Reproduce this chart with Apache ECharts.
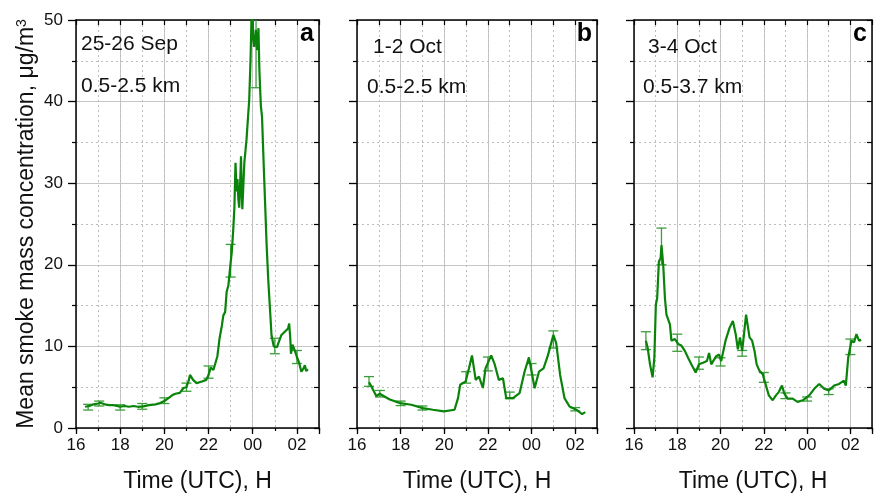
<!DOCTYPE html>
<html><head><meta charset="utf-8">
<script src="https://cdn.jsdelivr.net/npm/echarts@6/dist/echarts.min.js"></script>
<style>html,body{margin:0;padding:0;background:#fff}#c{width:875px;height:498px}</style>
</head><body><div id="c"></div>
<script>
// ---------- data ----------
const panelTitles = ['25-26 Sep', '1-2 Oct', '3-4 Oct'];
const panelRanges = ['0.5-2.5 km', '0.5-2.5 km', '0.5-3.7 km'];
const panelLetters = ['a', 'b', 'c'];
const xTickLabels = {16:'16',18:'18',20:'20',22:'22',24:'00',26:'02'};
const yTickValues = [0,10,20,30,40,50];

const timeA = [16.41,16.6,16.8,17.0,17.1,17.3,17.5,17.7,18.0,18.2,18.4,18.6,18.8,19.05,19.3,19.6,19.8,20.0,20.2,20.35,20.5,20.7,20.86,21.0,21.1,21.16,21.3,21.46,21.7,21.9,22.0,22.1,22.14,22.22,22.29,22.4,22.5,22.6,22.67,22.75,22.82,22.9,23.0,23.05,23.12,23.17,23.22,23.27,23.31,23.35,23.39,23.43,23.47,23.5,23.53,23.58,23.62,23.72,23.84,23.9,23.95,24.0,24.02,24.07,24.14,24.2,24.26,24.3,24.33,24.37,24.42,24.5,24.63,24.7,24.85,24.95,25.0,25.1,25.16,25.3,25.45,25.53,25.6,25.65,25.7,25.73,25.8,25.9,26.0,26.1,26.2,26.3,26.36,26.42,26.5];
const valA  = [2.6,2.7,2.9,3.0,3.1,2.9,2.8,2.8,2.6,2.7,2.6,2.7,2.6,2.65,2.8,2.9,3.05,3.3,3.7,4.0,4.2,4.3,4.9,5.0,5.8,6.5,5.9,5.5,5.7,5.9,6.5,7.4,7.6,7.1,6.9,8.8,11,12.5,13.8,14.2,16.7,17.5,20.3,21.5,24.4,27,32.5,29,30.5,28,27,30,33.3,29,26.8,30,32.5,35.4,40.2,45,51,50.5,47.6,46.7,48.8,46.3,49,44,41.9,39.4,38.2,32,22.4,18.3,11.4,10,10.2,9.9,10.4,11.4,11.8,12,12.2,12.8,11,9.1,10.2,9.5,8.7,8.0,6.9,7.3,7.7,7.0,7.2];
const errTimeA = [16.55,17.05,18.0,19.0,20.0,21.0,22.0,23.0,24.15,25.0,26.0];
const errLowA  = [2.2,2.7,2.2,2.3,3.0,4.5,6.1,18.5,41.7,9.1,7.9];
const errHighA = [2.9,3.3,2.85,3.0,3.7,5.5,7.6,22.5,53,11.0,9.5];

const timeB = [16.55,16.66,16.89,17.04,17.5,17.98,18.49,19.02,19.48,19.98,20.47,20.63,20.73,20.98,21.13,21.27,21.44,21.59,21.77,21.89,22.15,22.3,22.5,22.69,22.84,23.15,23.45,23.68,23.88,24.03,24.14,24.34,24.55,24.75,24.9,25.0,25.13,25.31,25.51,25.74,26.05,26.32,26.46];
const valB  = [5.6,5.1,3.9,4.2,3.5,3.05,2.85,2.44,2.24,2.03,2.24,3.66,5.3,5.7,7.3,8.9,5.9,6.3,4.9,7.3,8.9,7.9,5.9,6.1,3.66,3.66,4.27,6.9,8.66,6.5,4.88,6.9,7.3,8.9,10.4,11.4,10.4,6.5,3.66,2.64,2.24,1.7,1.95];
const errTimeB = [16.55,17.05,18.0,19.0,21.0,22.0,23.0,24.0,25.0,26.0];
const errLowB  = [5.1,3.8,2.75,2.2,5.5,7.0,3.6,6.5,9.8,2.1];
const errHighB = [6.3,4.6,3.3,2.7,6.9,8.7,4.4,7.9,11.9,2.5];

const timeC = [16.55,16.63,16.74,16.86,16.94,17.01,17.07,17.15,17.23,17.27,17.35,17.43,17.5,17.58,17.66,17.73,17.89,18.04,18.19,18.35,18.5,18.65,18.85,19.0,19.19,19.37,19.47,19.57,19.8,19.93,20.03,20.23,20.42,20.57,20.7,20.8,20.9,21.0,21.1,21.18,21.26,21.34,21.46,21.57,21.67,21.8,21.95,22.1,22.23,22.41,22.56,22.69,22.84,22.95,23.1,23.33,23.56,23.8,24.1,24.33,24.56,24.79,25.0,25.25,25.48,25.7,25.79,25.9,26.05,26.17,26.28,26.4,26.5];
const valC  = [10.7,9.85,7.8,6.2,8.6,15.1,15.9,20.4,20.8,22.4,20,15.9,13.9,14.1,12.7,10.7,10.9,10.3,10.1,9.45,8.6,7.8,6.8,7.8,8.0,8.2,9.2,7.8,8.8,9.0,8.2,10.7,12.3,13.1,11.5,9.65,11.1,9.45,11.9,13.9,14.1,11.1,10.7,9.45,7.8,7.0,6.6,5.2,4.0,3.4,4.0,4.4,5.2,4.2,3.6,3.6,3.2,3.4,4.0,4.8,5.4,4.8,4.6,5.2,5.4,5.8,5.2,8.6,10.7,10.5,11.5,10.7,10.8];
const errTimeC = [16.55,17.27,18.0,19.0,20.0,21.0,22.0,23.0,24.0,25.0,26.0];
const errLowC  = [9.6,20,9.4,7.2,7.6,8.8,5.6,3.6,3.3,4.1,9.0];
const errHighC = [11.8,24.5,11.5,8.7,8.6,9.5,6.8,4.3,3.8,4.8,10.9];

// ---------- chart ----------
const lines = [[timeA,valA],[timeB,valB],[timeC,valC]];
const errs = [[errTimeA,errLowA,errHighA],[errTimeB,errLowB,errHighB],[errTimeC,errLowC,errHighC]];
const gridPos = [{left:76,width:243},{left:357,width:240},{left:634,width:238}];
const FONT = "'Liberation Sans', Arial, Helvetica, sans-serif";
const LINE_C = '#0a830a';
const ERR_C = '#3c9d3c';
const GRID_C = '#c6c6c6';

const grids = [], xAxes = [], yAxes = [], series = [], graphics = [];
for (let i = 0; i < 3; i++) {
  grids.push({left: gridPos[i].left, width: gridPos[i].width, top: 20, height: 410, containLabel: false});
  xAxes.push({
    type:'value', gridIndex:i, position:'bottom', min:16, max:27, interval:2,
    axisLine:{show:true, onZero:false, lineStyle:{color:'#000', width:1.5}},
    axisTick:{show:true, length:6, lineStyle:{color:'#000', width:1.3}},
    axisLabel:{show:true, margin:9, fontSize:17, color:'#111', fontFamily:FONT,
      formatter: v => (xTickLabels[v] !== undefined ? xTickLabels[v] : '')},
    splitLine:{show:true, lineStyle:{color:GRID_C, width:1, type:'solid'}},
    name:'Time (UTC), H', nameLocation:'middle', nameGap:42,
    nameTextStyle:{fontSize:23, color:'#111', fontFamily:FONT}
  });
  xAxes.push({
    type:'value', gridIndex:i, position:'bottom', min:16, max:27, interval:1, offset:0,
    axisLine:{show:false}, axisLabel:{show:false},
    axisTick:{show:true, length:3, lineStyle:{color:'#000', width:1.2}},
    splitLine:{show:true, lineStyle:{color:'#bdbdbd', width:1, type:[2,3]}}
  });
  xAxes.push({
    type:'value', gridIndex:i, position:'top', min:16, max:27, interval:1,
    axisLine:{show:true, onZero:false, lineStyle:{color:'#000', width:1.5}},
    axisTick:{show:true, inside:true, length:5, lineStyle:{color:'#000', width:1.2}},
    axisLabel:{show:false}, splitLine:{show:false}
  });
  yAxes.push({
    type:'value', gridIndex:i, position:'left', min:0, max:50, interval:10,
    axisLine:{show:true, onZero:false, lineStyle:{color:'#000', width:1.5}},
    axisTick:{show:true, length:8, lineStyle:{color:'#000', width:1.3}},
    minorTick:{show:true, splitNumber:2, length:4, lineStyle:{color:'#000', width:1.2}},
    minorSplitLine:{show:true, lineStyle:{color:'#bdbdbd', width:1, type:[2,3]}},
    splitLine:{show:true, lineStyle:{color:GRID_C, width:1}},
    axisLabel:{show:i===0, margin:13, fontSize:17, color:'#111', fontFamily:FONT,
      formatter: v => (yTickValues.indexOf(v) >= 0 ? String(v) : '')},
    name: i===0 ? 'Mean smoke mass concentration, μg/m{s|3}' : '',
    nameLocation:'middle', nameGap:37, nameRotate:90,
    nameTextStyle:{fontSize:23, color:'#111', fontFamily:FONT,
      rich:{s:{fontSize:14, verticalAlign:'top', color:'#111', fontFamily:FONT, padding:[0,0,10,0]}}}
  });
  yAxes.push({
    type:'value', gridIndex:i, position:'right', min:0, max:50, interval:5,
    axisLine:{show:true, onZero:false, lineStyle:{color:'#000', width:1.5}},
    axisTick:{show:true, inside:true, length:5, lineStyle:{color:'#000', width:1.2}},
    axisLabel:{show:false}, splitLine:{show:false}
  });
  const [t, v] = lines[i];
  series.push({
    type:'line', xAxisIndex:3*i, yAxisIndex:2*i, showSymbol:false, symbol:'none',
    data: t.map((x, k) => [x, v[k]]), clip:true, z:5,
    lineStyle:{color:LINE_C, width:2.2}, animation:false
  });
  const [et, el, eh] = errs[i];
  series.push({
    type:'custom', xAxisIndex:3*i, yAxisIndex:2*i, clip:true, z:4, animation:false,
    data: et.map((x, k) => [x, el[k], eh[k]]),
    renderItem: (params, api) => {
      const lo = api.coord([api.value(0), api.value(1)]);
      const hi = api.coord([api.value(0), api.value(2)]);
      const w = 5;
      const st = {stroke:ERR_C, lineWidth:1.3};
      return {type:'group', children:[
        {type:'line', shape:{x1:lo[0], y1:lo[1], x2:hi[0], y2:hi[1]}, style:st},
        {type:'line', shape:{x1:lo[0]-w, y1:lo[1], x2:lo[0]+w, y2:lo[1]}, style:st},
        {type:'line', shape:{x1:hi[0]-w, y1:hi[1], x2:hi[0]+w, y2:hi[1]}, style:st}
      ]};
    }
  });
}

const textLeft = [[81,81],[373,367],[648,643]];
const textTop = [[34,76],[37,77],[37,77]];
for (let i = 0; i < 3; i++) {
  graphics.push({type:'text', left:textLeft[i][0], top:textTop[i][0], z:10,
    style:{text:panelTitles[i], fontSize:21, fill:'#111', fontFamily:FONT}});
  graphics.push({type:'text', left:textLeft[i][1], top:textTop[i][1], z:10,
    style:{text:panelRanges[i], fontSize:21, fill:'#111', fontFamily:FONT}});
  graphics.push({type:'text', right: 875 - (gridPos[i].left + gridPos[i].width) + 5, top:22, z:10,
    style:{text:panelLetters[i], fontSize:25, fontWeight:'bold', fill:'#000', fontFamily:FONT}});
}

const chart = echarts.init(document.getElementById('c'), null, {renderer:'canvas'});
chart.setOption({
  animation:false, backgroundColor:'#fff',
  grid:grids, xAxis:xAxes, yAxis:yAxes, series:series, graphic:graphics
});
</script></body></html>
